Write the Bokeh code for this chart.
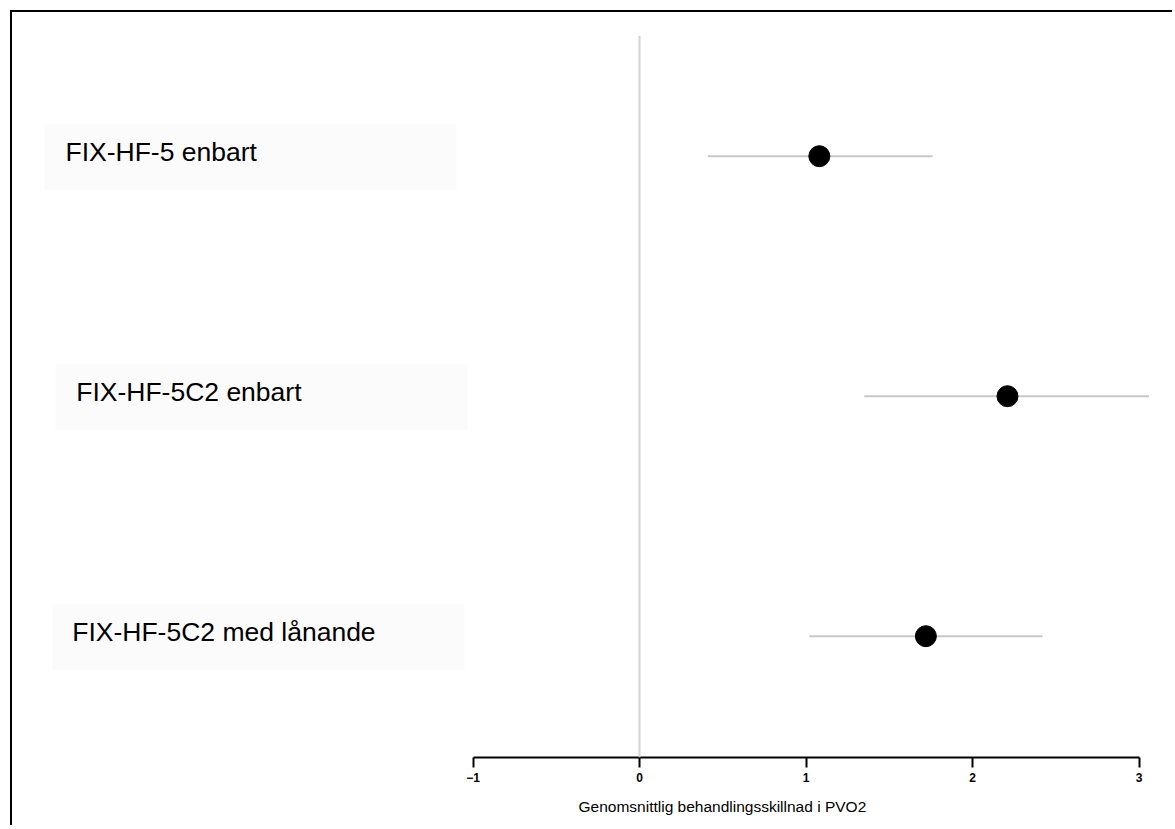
from bokeh.plotting import figure
from bokeh.models import ColumnDataSource, Span, FixedTicker, Title
from bokeh.core.properties import value
from bokeh.embed import file_html
from bokeh.resources import INLINE

# ---- data ----
studies = ["FIX-HF-5 enbart", "FIX-HF-5C2 enbart", "FIX-HF-5C2 med lånande"]
estimate = [1.08, 2.21, 1.72]
ci_low = [0.41, 1.35, 1.02]
ci_high = [1.76, 3.06, 2.42]
x_ticks = [-1, 0, 1, 2, 3]
x_label = "Genomsnittlig behandlingsskillnad i PVO2"

# ---- layout (pixels) ----
PPU_X = 166.5          # px per x unit
PPU_Y = 240.0          # px per row
FRAME_W, FRAME_H = 1160, 722
ZERO_PX = 627          # canvas px of x = 0
ROW1_PX = 120.7        # px from frame top to first row
x_start = -ZERO_PX / PPU_X
x_end = x_start + FRAME_W / PPU_X
n = len(studies)
rows = [float(n - i) for i in range(n)]
y_top = n + ROW1_PX / PPU_Y
y_bottom = y_top - FRAME_H / PPU_Y


def px_to_x(px):
    return x_start + px / PPU_X


FONT = "Liberation Sans"

p = figure(frame_width=FRAME_W, frame_height=FRAME_H,
           x_range=(x_start, x_end), y_range=(y_bottom, y_top),
           output_backend="svg", toolbar_location=None,
           y_axis_location=None, min_border_left=0, min_border_right=0,
           min_border_top=23, min_border_bottom=20,
           styles={"border-top": "2px solid black", "border-left": "2px solid black",
                   "margin-top": "10px", "margin-left": "10px"})
p.outline_line_color = None
p.grid.visible = False
p.background_fill_color = "white"
p.border_fill_color = "white"

# label boxes
box_left_px = [32, 43, 40]
box_w_px = 412
box_top_off = 32.0
box_bot_off = 34.0
src_box = ColumnDataSource(dict(
    left=[px_to_x(b) for b in box_left_px],
    right=[px_to_x(b + box_w_px) for b in box_left_px],
    top=[r + box_top_off / PPU_Y for r in rows],
    bottom=[r - box_bot_off / PPU_Y for r in rows],
))
p.quad(left="left", right="right", top="top", bottom="bottom", source=src_box,
       fill_color="#fbfbfb", line_color=None)

# zero line
p.add_layout(Span(location=0, dimension="height", line_color="#d4d4d4", line_width=2))

src = ColumnDataSource(dict(study=studies, y=rows, est=estimate, lo=ci_low, hi=ci_high,
                            lx=[px_to_x(53)] * n, dx=[0, 10.7, 6.7]))
p.segment(x0="lo", x1="hi", y0="y", y1="y", source=src, line_color="#c8c8c8", line_width=2)
p.scatter(x="est", y="y", source=src, size=21, fill_color="black", line_color="black")
p.text(x="lx", y="y", text="study", x_offset="dx", y_offset=-4.5, source=src,
       text_font=value(FONT), text_font_size="26.5px", text_color="black",
       text_baseline="alphabetic", text_align="left")

ax = p.xaxis[0]
ax.bounds = (x_ticks[0], x_ticks[-1])
ax.ticker = FixedTicker(ticks=x_ticks)
ax.minor_tick_line_color = None
ax.major_tick_in = 0
ax.major_tick_out = 10
ax.major_tick_line_width = 2
ax.axis_line_width = 2
ax.axis_line_color = "black"
ax.major_tick_line_color = "black"
ax.major_label_text_font = FONT
ax.major_label_text_font_style = "bold"
ax.major_label_text_font_size = "12px"
ax.major_label_text_color = "black"
ax.major_label_standoff = 5

p.add_layout(Title(text=x_label, align="left", offset=566, text_font=FONT,
                   text_font_size="15.5px", text_font_style="normal",
                   text_color="black", standoff=22), "below")

open("out.html", "w").write(file_html(p, INLINE))
